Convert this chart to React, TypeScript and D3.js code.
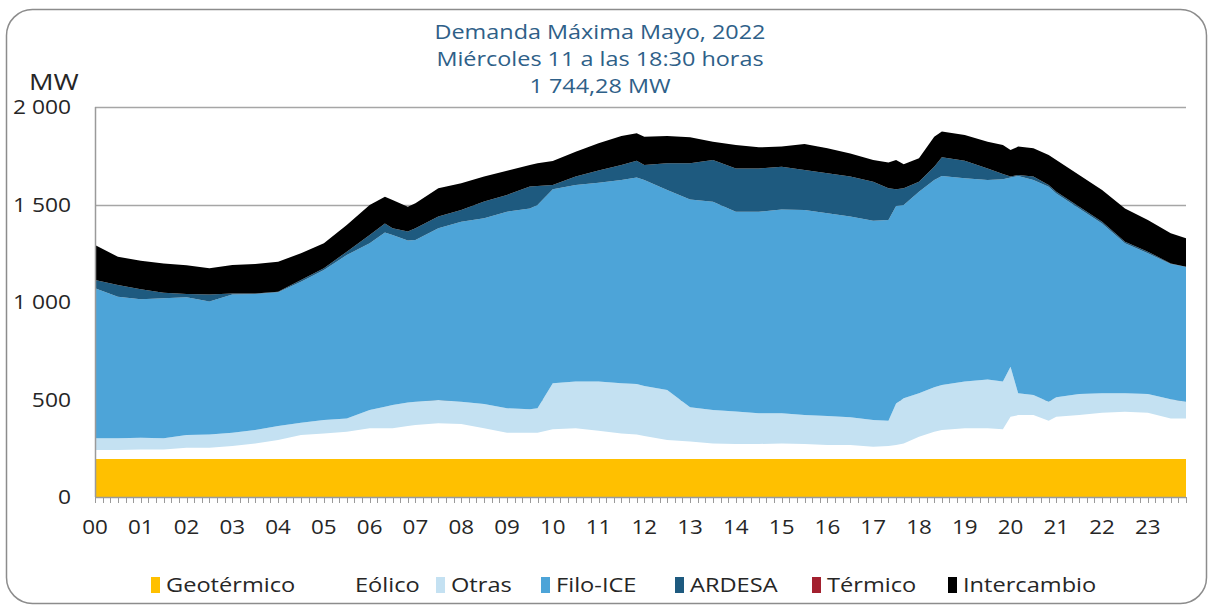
import React, { useEffect, useRef } from 'react'
import * as d3 from 'd3'

// half-hour readings (plus a few 10-min points where the curve has a visible corner)
const times = [
  '00:00', '00:30', '01:00', '01:30', '02:00', '02:30', '03:00', '03:30', '04:00', '04:30',
  '05:00', '05:30', '06:00', '06:20', '06:30', '06:50', '07:00', '07:30', '08:00', '08:30',
  '09:00', '09:30', '09:40', '10:00', '10:30', '11:00', '11:30', '11:50', '12:00', '12:30',
  '13:00', '13:30', '14:00', '14:30', '15:00', '15:30', '16:00', '16:30', '17:00', '17:20',
  '17:30', '17:40', '18:00', '18:20', '18:30', '19:00', '19:30', '19:50', '20:00', '20:10',
  '20:30', '20:50', '21:00', '21:30', '22:00', '22:30', '23:00', '23:30', '23:50',
]

const geotermico = [
  195, 195, 195, 195, 195, 195, 195, 195, 195, 195,
  195, 195, 195, 195, 195, 195, 195, 195, 195, 195,
  195, 195, 195, 195, 195, 195, 195, 195, 195, 195,
  195, 195, 195, 195, 195, 195, 195, 195, 195, 195,
  195, 195, 195, 195, 195, 195, 195, 195, 195, 195,
  195, 195, 195, 195, 195, 195, 195, 195, 195,
]
const eolico = [
  46, 46, 49, 49, 58, 58, 67, 80, 97, 123,
  131, 140, 157, 157, 157, 169, 174, 183, 179, 157,
  135, 135, 135, 152, 157, 145, 131, 126, 118, 97,
  89, 80, 77, 77, 80, 77, 72, 72, 63, 67,
  72, 80, 114, 140, 149, 157, 157, 152, 217, 225,
  225, 196, 217, 225, 237, 242, 237, 208, 208,
]
const otras = [
  60, 60, 60, 57, 65, 68, 68, 69, 72, 63,
  69, 68, 94, 111, 120, 120, 120, 119, 115, 125,
  125, 120, 125, 236, 240, 252, 257, 259, 256, 257,
  176, 171, 166, 157, 154, 148, 148, 142, 137, 129,
  213, 231, 223, 228, 231, 240, 251, 245, 256, 112,
  103, 98, 99, 108, 100, 95, 96, 98, 86,
]
const filoIce = [
  769, 726, 710, 718, 706, 681, 709, 697, 686, 723,
  769, 838, 855, 894, 872, 831, 829, 881, 923, 952,
  1008, 1030, 1042, 995, 1008, 1020, 1043, 1059, 1057, 1025,
  1066, 1068, 1025, 1034, 1046, 1052, 1040, 1029, 1022, 1029,
  1012, 991, 1034, 1063, 1071, 1042, 1023, 1037, 971, 1114,
  1103, 1102, 1046, 952, 871, 769, 722, 694, 692,
]
const ardesa = [
  43, 60, 51, 29, 17, 37, 5, 3, 3, 9,
  9, 17, 43, 46, 34, 46, 60, 60, 60, 86,
  86, 112, 98, 22, 43, 62, 77, 86, 77, 137,
  185, 214, 222, 222, 219, 205, 205, 205, 200, 163,
  86, 86, 51, 68, 96, 91, 59, 27, 4, 5,
  17, 9, 9, 9, 9, 8, 8, 3, 0,
]
const termico = [
  0, 0, 0, 0, 0, 0, 0, 0, 0, 0,
  0, 0, 0, 0, 0, 0, 0, 0, 0, 0,
  0, 0, 0, 0, 0, 0, 0, 0, 0, 0,
  0, 0, 0, 0, 0, 0, 0, 0, 0, 0,
  0, 0, 0, 0, 0, 0, 0, 0, 0, 0,
  0, 0, 0, 0, 0, 0, 0, 0, 0,
]
const intercambio = [
  179, 145, 147, 150, 147, 134, 146, 151, 154, 137,
  128, 137, 153, 137, 145, 128, 128, 145, 137, 128,
  124, 111, 116, 123, 128, 140, 148, 140, 145, 140,
  134, 94, 120, 108, 103, 133, 128, 119, 111, 132,
  150, 123, 120, 154, 132, 131, 137, 149, 137, 146,
  145, 154, 162, 162, 162, 171, 163, 154, 146,
]

const seriesNames = ['Geotérmico', 'Eólico', 'Otras', 'Filo-ICE', 'ARDESA', 'Térmico', 'Intercambio']
const seriesValues = [geotermico, eolico, otras, filoIce, ardesa, termico, intercambio]
const seriesColors = ['#FFC000', '#FFFFFF', '#C4E1F2', '#4DA4D8', '#1E5A7F', '#A3202F', '#000000']

const hourLabels = [
  '00', '01', '02', '03', '04', '05', '06', '07', '08', '09', '10', '11',
  '12', '13', '14', '15', '16', '17', '18', '19', '20', '21', '22', '23',
]
const yTicks = [0, 500, 1000, 1500, 2000]
const titleLines = ['Demanda Máxima Mayo, 2022', 'Miércoles 11 a las 18:30 horas', '1 744,28 MW']

const toHour = (t: string) => +t.slice(0, 2) + +t.slice(3) / 60

// the original font is wider than Open Sans: widen the glyphs a bit
function stretch(sel: any, k: number) {
  sel.each(function (this: SVGTextElement) {
    const len = this.getComputedTextLength()
    d3.select(this).attr('textLength', len * k).attr('lengthAdjust', 'spacingAndGlyphs')
  })
}

const App = () => {
  const svgRef = useRef<SVGSVGElement>(null)
  const width = 1212
  const height = 607
  const margin = { top: 107, right: 26, bottom: 110, left: 95 }
  const font = '"Open Sans", sans-serif'
  const widen = 1.17

  useEffect(() => {
    const svg = d3.select(svgRef.current)
    svg.selectAll('*').remove()

    const rows = times.map((t, i) => {
      const row: any = { hour: toHour(t) }
      seriesNames.forEach((name, k) => (row[name] = seriesValues[k][i]))
      return row
    })

    const x = d3
      .scaleLinear()
      .domain([0, 23 + 50 / 60])
      .range([margin.left, width - margin.right])
    const y = d3
      .scaleLinear()
      .domain([0, 2000])
      .range([height - margin.bottom, margin.top])
    const color = d3.scaleOrdinal<string, string>(seriesNames, seriesColors)
    const fmt = d3.formatLocale({ decimal: ',', thousands: ' ', grouping: [3], currency: ['', ''] }).format(',')

    // outer frame
    svg
      .append('rect')
      .attr('x', 6.5)
      .attr('y', 9.5)
      .attr('width', 1200)
      .attr('height', 594)
      .attr('rx', 26)
      .attr('fill', 'white')
      .attr('stroke', '#8c8c8c')
      .attr('stroke-width', 1.5)

    // title
    const title = svg
      .append('g')
      .selectAll('text')
      .data(titleLines)
      .join('text')
      .attr('x', 600)
      .attr('y', (d, i) => 39 + i * 27)
      .attr('text-anchor', 'middle')
      .style('font-family', font)
      .style('font-size', '20px')
      .style('fill', '#2E6088')
      .text((d) => d)
    stretch(title, widen)

    // gridlines
    svg
      .append('g')
      .selectAll('line')
      .data(yTicks.filter((d) => d > 0))
      .join('line')
      .attr('x1', margin.left)
      .attr('x2', width - margin.right)
      .attr('y1', (d) => Math.round(y(d)) + 0.5)
      .attr('y2', (d) => Math.round(y(d)) + 0.5)
      .attr('stroke', '#a6a6a6')
      .attr('stroke-width', 1.5)

    // stacked areas
    const stacked = d3.stack().keys(seriesNames)(rows)
    const area = d3
      .area<any>()
      .x((d) => x(d.data.hour))
      .y0((d) => y(d[0]))
      .y1((d) => y(d[1]))

    svg
      .append('g')
      .selectAll('path')
      .data(stacked)
      .join('path')
      .attr('fill', (d) => color(d.key))
      .attr('d', area)

    // axes lines
    const axisColor = '#9a9a9a'
    svg
      .append('line')
      .attr('x1', margin.left + 0.5)
      .attr('x2', margin.left + 0.5)
      .attr('y1', y(2000))
      .attr('y2', y(0))
      .attr('stroke', axisColor)
      .attr('stroke-width', 1.5)

    const xAxis = svg.append('g')
    xAxis
      .append('line')
      .attr('x1', margin.left)
      .attr('x2', width - margin.right)
      .attr('y1', y(0) + 0.5)
      .attr('y2', y(0) + 0.5)
      .attr('stroke', axisColor)
      .attr('stroke-width', 1.5)

    // a tick every 10 minutes
    xAxis
      .selectAll('line.tick')
      .data(d3.range(0, 144))
      .join('line')
      .attr('class', 'tick')
      .attr('x1', (d) => Math.round(x(d / 6)) + 0.5)
      .attr('x2', (d) => Math.round(x(d / 6)) + 0.5)
      .attr('y1', y(0))
      .attr('y2', y(0) + 6)
      .attr('stroke', axisColor)
      .attr('stroke-width', 1)

    const xLabels = xAxis
      .selectAll('text')
      .data(hourLabels)
      .join('text')
      .attr('x', (d) => x(+d))
      .attr('y', 534)
      .attr('text-anchor', 'middle')
      .style('font-family', font)
      .style('font-size', '20px')
      .style('fill', '#262626')
      .text((d) => d)
    stretch(xLabels, 1.12)

    // y labels
    const yLabels = svg
      .append('g')
      .selectAll('text')
      .data(yTicks)
      .join('text')
      .attr('x', 71)
      .attr('y', (d) => y(d) + 7)
      .attr('text-anchor', 'end')
      .style('font-family', font)
      .style('font-size', '20px')
      .style('fill', '#262626')
      .text((d) => fmt(d))
    stretch(yLabels, 1.14)

    const unit = svg
      .append('text')
      .attr('x', 29)
      .attr('y', 90)
      .style('font-family', font)
      .style('font-size', '21px')
      .style('fill', '#262626')
      .text('MW')
    stretch(unit, 1.3)

    // legend
    const legendX = [151, 340, 436, 541, 675, 812, 948]
    const legend = svg
      .append('g')
      .selectAll('g')
      .data(seriesNames)
      .join('g')
      .attr('transform', (d, i) => `translate(${legendX[i]},585)`)

    legend
      .append('rect')
      .attr('x', 0)
      .attr('y', -8)
      .attr('width', 9)
      .attr('height', 16)
      .attr('fill', (d) => color(d))

    const legendText = legend
      .append('text')
      .attr('x', 15)
      .attr('y', 7)
      .style('font-family', font)
      .style('font-size', '20px')
      .style('fill', '#262626')
      .text((d) => d)
    stretch(legendText, 1.18)
  }, [])

  return (
    <svg
      ref={svgRef}
      width={width}
      height={height}
      viewBox={`0 0 ${width} ${height}`}
      style={{ position: 'absolute', left: 0, top: 0 }}
    ></svg>
  )
}

export default App
